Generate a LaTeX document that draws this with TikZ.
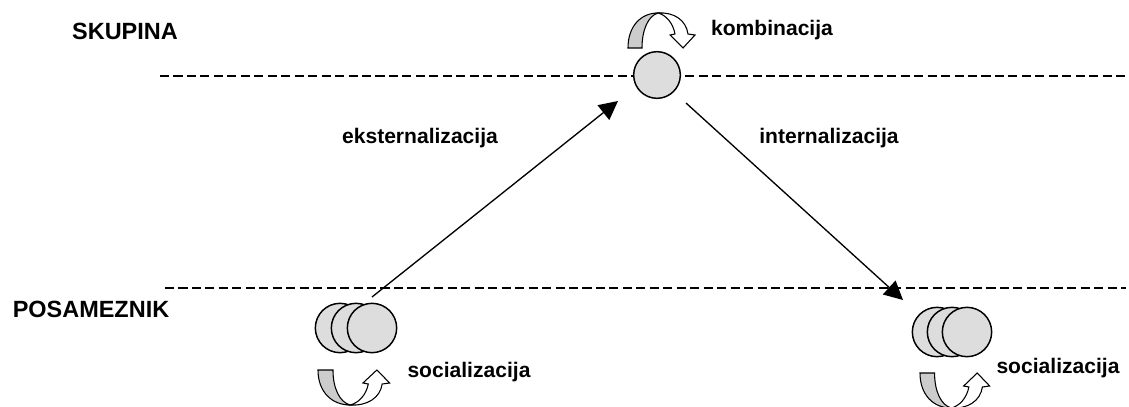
\documentclass[tikz,border=0pt]{standalone}
\usepackage{fontspec}
\setmainfont{Liberation Sans}
\usetikzlibrary{arrows.meta}
\definecolor{circfill}{RGB}{221,221,221}
\definecolor{bandfill}{RGB}{204,204,204}
\tikzset{
  level/.style={font=\bfseries\fontsize{17.6}{20}\selectfont, inner sep=0pt},
  proc/.style={font=\bfseries\fontsize{15.8}{18}\selectfont, inner sep=0pt},
  sep/.style={line width=1.1pt, dash pattern=on 6.8pt off 3.3pt},
  flow/.style={line width=1pt, -{Triangle[length=14pt,width=14pt]}},
  ball/.style={circle, draw, line width=1.1pt, fill=circfill, minimum size=37pt, inner sep=0pt},
  curvearrow/.pic={
    \draw[line width=0.8pt, fill=bandfill] (0,0) .. controls (0,22) and (13,35) .. (30,35)
      .. controls (20,32) and (14,18) .. (14,0) -- cycle;
    \draw[line width=0.8pt, fill=white, line join=miter] (30,35) .. controls (46,36) and (58,28) .. (60,14)
      -- (67,13) -- (55,0) -- (42,13) -- (47,14) .. controls (45,25) and (38,33) .. (30,35) -- cycle;
  }
}
\begin{document}
\begin{tikzpicture}[x=0.75pt,y=-0.75pt]
\useasboundingbox (0,0) rectangle (1129,407);
\clip (0,0) rectangle (1129,407);

% level separators
\coordinate (t1) at (160,76);
\coordinate (t2) at (1126,76);
\coordinate (b1) at (165,288);
\coordinate (b2) at (1126,288);
\draw[sep] (t1) -- (t2);
\draw[sep] (b1) -- (b2);

% level labels
\node[level] (skupina) at (125,31) {SKUPINA};
\node[level] (posameznik) at (91,309) {POSAMEZNIK};

% top circle
\node[ball, minimum size=35pt] (top) at (657,75) {};
\pic[yscale=-1] at (628,48) {curvearrow};
\node[proc] (komb) at (772,30) {kombinacija};

% left circles
\node[ball] (l1) at (340,328) {};
\node[ball] (l2) at (356,328) {};
\node[ball] (l3) at (372,328) {};
\pic[xscale=1.07] at (318,370) {curvearrow};
\node[proc] (socl) at (469,372) {socializacija};

% right circles
\node[ball] (r1) at (937,332) {};
\node[ball] (r2) at (952,332) {};
\node[ball] (r3) at (967,332) {};
\pic[xscale=1.04] at (920,373) {curvearrow};
\node[proc] (socr) at (1058,368) {socializacija};

% flows
\coordinate (ea) at (372,297);
\coordinate (eb) at (618,101);
\coordinate (ia) at (686,103);
\coordinate (ib) at (903,300);
\draw[flow] (ea) -- (eb);
\draw[flow] (ia) -- (ib);
\node[proc] (eks) at (420,138) {eksternalizacija};
\node[proc] (int) at (829,138) {internalizacija};
\end{tikzpicture}
\end{document}
